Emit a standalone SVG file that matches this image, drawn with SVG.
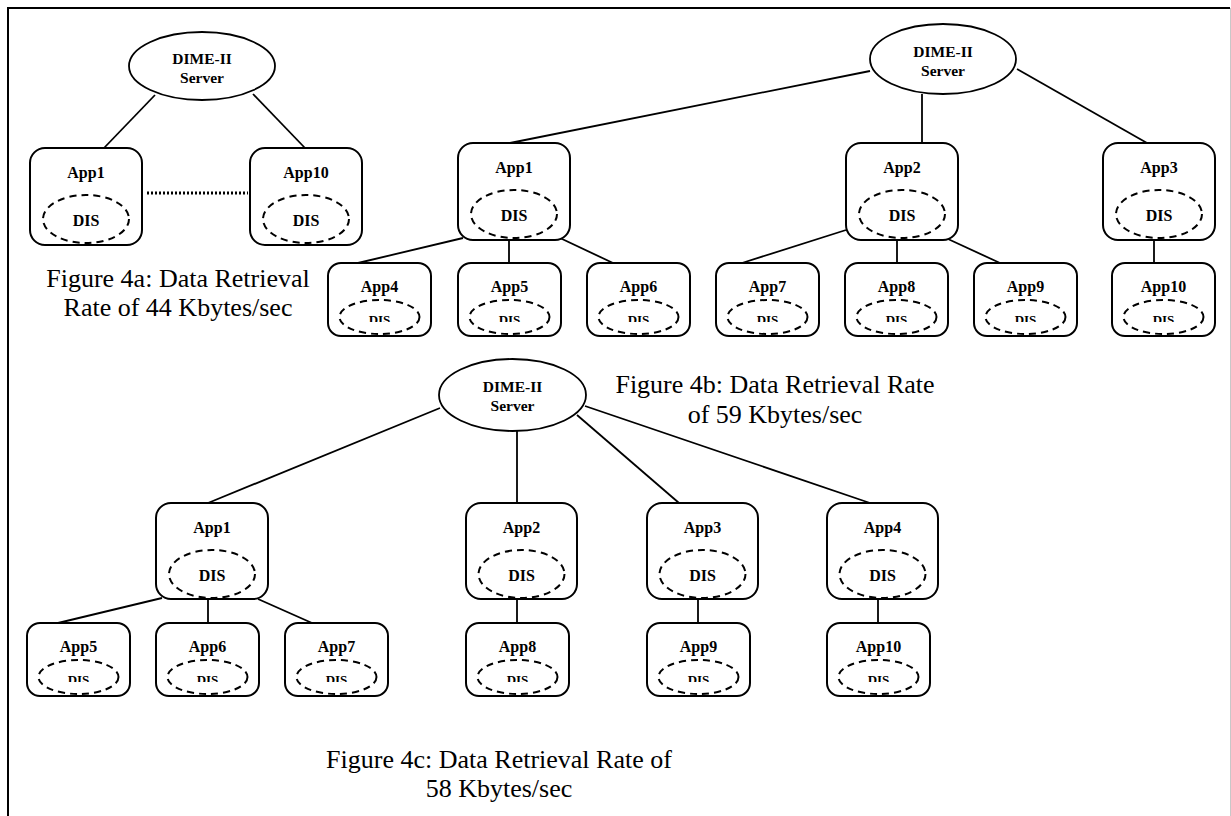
<svg xmlns="http://www.w3.org/2000/svg" width="1231" height="816" viewBox="0 0 1231 816">
  <style>
    .frame { fill: none; stroke: #000; stroke-width: 2; }
    .edge { stroke: #000; stroke-width: 1.8; fill: none; }
    .dots { stroke: #000; stroke-width: 3; stroke-dasharray: 2 2; fill: none; }
    .box { fill: #fff; stroke: #000; stroke-width: 2; }
    .srv { fill: #fff; stroke: #000; stroke-width: 1.8; }
    .dis { fill: none; stroke: #000; stroke-width: 2; stroke-dasharray: 7 5; }
    text { font-family: "Liberation Serif", "Times New Roman", serif; fill: #000; text-anchor: middle; }
    .lbl { font-size: 16px; font-weight: bold; }
    .sl { font-size: 15.5px; font-weight: bold; }
    .sd { font-size: 13px; font-weight: bold; }
    .cap { font-size: 26px; }
  </style>
  <defs>
    <!-- child DIS labels are cut off just above their baseline -->
    <clipPath id="cut" clipPathUnits="userSpaceOnUse">
      <rect x="0" y="0" width="103" height="59"/>
    </clipPath>
  </defs>

  <!-- page frame -->
  <path class="frame" d="M8,816 V8 H1230"/>
  <line x1="1230.5" y1="8" x2="1230.5" y2="816" stroke="#c8c8c8" stroke-width="1"/>

  <g id="connectors">
    <!-- 4a -->
    <line class="edge" x1="155" y1="95" x2="104" y2="148"/>
    <line class="edge" x1="253" y1="94" x2="305" y2="148"/>
    <line class="dots" x1="147" y1="193" x2="248" y2="193"/>
    <!-- 4b -->
    <line class="edge" x1="870" y1="71" x2="510" y2="143"/>
    <line class="edge" x1="922" y1="94" x2="922" y2="143"/>
    <line class="edge" x1="1017" y1="69" x2="1147" y2="143"/>
    <line class="edge" x1="463" y1="238" x2="358" y2="263"/>
    <line class="edge" x1="509" y1="240" x2="509" y2="263"/>
    <line class="edge" x1="560" y1="238" x2="613" y2="263"/>
    <line class="edge" x1="846" y1="230" x2="742" y2="263"/>
    <line class="edge" x1="897" y1="239" x2="897" y2="263"/>
    <line class="edge" x1="948" y1="239" x2="1000" y2="263"/>
    <line class="edge" x1="1154" y1="239" x2="1154" y2="263"/>
    <!-- 4c -->
    <line class="edge" x1="440" y1="408" x2="208" y2="503"/>
    <line class="edge" x1="517" y1="431" x2="517" y2="503"/>
    <line class="edge" x1="577" y1="415" x2="679" y2="503"/>
    <line class="edge" x1="585" y1="406" x2="870" y2="503"/>
    <line class="edge" x1="162" y1="598" x2="58" y2="623"/>
    <line class="edge" x1="208" y1="599" x2="208" y2="623"/>
    <line class="edge" x1="258" y1="599" x2="312" y2="623"/>
    <line class="edge" x1="517" y1="599" x2="517" y2="623"/>
    <line class="edge" x1="698" y1="599" x2="698" y2="623"/>
    <line class="edge" x1="878" y1="599" x2="878" y2="623"/>
  </g>

  <!-- ===== Figure 4a ===== -->
  <g id="a-server">
    <ellipse class="srv" cx="202" cy="66" rx="73" ry="34"/>
    <text class="sl" x="202" y="64">DIME-II</text>
    <text class="sl" x="202" y="83">Server</text>
  </g>
  <g id="a-app1" transform="translate(30,148)">
    <rect class="box" width="112" height="97" rx="15"/>
    <text class="lbl" x="56" y="30">App1</text>
    <ellipse class="dis" cx="56" cy="71" rx="43" ry="24"/>
    <text class="lbl" x="56" y="78">DIS</text>
  </g>
  <g id="a-app10" transform="translate(250,148)">
    <rect class="box" width="112" height="97" rx="15"/>
    <text class="lbl" x="56" y="30">App10</text>
    <ellipse class="dis" cx="56" cy="71" rx="43" ry="24"/>
    <text class="lbl" x="56" y="78">DIS</text>
  </g>
  <g id="a-caption">
    <text class="cap" x="178" y="287">Figure 4a: Data Retrieval</text>
    <text class="cap" x="178" y="316">Rate of 44 Kbytes/sec</text>
  </g>

  <!-- ===== Figure 4b ===== -->
  <g id="b-server">
    <ellipse class="srv" cx="943" cy="59" rx="73" ry="35"/>
    <text class="sl" x="943" y="57">DIME-II</text>
    <text class="sl" x="943" y="76">Server</text>
  </g>
  <g id="b-app1" transform="translate(458,143)">
    <rect class="box" width="112" height="97" rx="15"/>
    <text class="lbl" x="56" y="30">App1</text>
    <ellipse class="dis" cx="56" cy="71" rx="43" ry="24"/>
    <text class="lbl" x="56" y="78">DIS</text>
  </g>
  <g id="b-app2" transform="translate(846,143)">
    <rect class="box" width="112" height="97" rx="15"/>
    <text class="lbl" x="56" y="30">App2</text>
    <ellipse class="dis" cx="56" cy="71" rx="43" ry="24"/>
    <text class="lbl" x="56" y="78">DIS</text>
  </g>
  <g id="b-app3" transform="translate(1103,143)">
    <rect class="box" width="112" height="97" rx="15"/>
    <text class="lbl" x="56" y="30">App3</text>
    <ellipse class="dis" cx="56" cy="71" rx="43" ry="24"/>
    <text class="lbl" x="56" y="78">DIS</text>
  </g>
  <g id="b-app4" transform="translate(328,263)">
    <rect class="box" width="103" height="73" rx="13"/>
    <text class="lbl" x="51.5" y="29">App4</text>
    <ellipse class="dis" cx="51.5" cy="54" rx="40" ry="17"/>
    <text class="sd" x="51.5" y="61" clip-path="url(#cut)">DIS</text>
  </g>
  <g id="b-app5" transform="translate(458,263)">
    <rect class="box" width="103" height="73" rx="13"/>
    <text class="lbl" x="51.5" y="29">App5</text>
    <ellipse class="dis" cx="51.5" cy="54" rx="40" ry="17"/>
    <text class="sd" x="51.5" y="61" clip-path="url(#cut)">DIS</text>
  </g>
  <g id="b-app6" transform="translate(587,263)">
    <rect class="box" width="103" height="73" rx="13"/>
    <text class="lbl" x="51.5" y="29">App6</text>
    <ellipse class="dis" cx="51.5" cy="54" rx="40" ry="17"/>
    <text class="sd" x="51.5" y="61" clip-path="url(#cut)">DIS</text>
  </g>
  <g id="b-app7" transform="translate(716,263)">
    <rect class="box" width="103" height="73" rx="13"/>
    <text class="lbl" x="51.5" y="29">App7</text>
    <ellipse class="dis" cx="51.5" cy="54" rx="40" ry="17"/>
    <text class="sd" x="51.5" y="61" clip-path="url(#cut)">DIS</text>
  </g>
  <g id="b-app8" transform="translate(845,263)">
    <rect class="box" width="103" height="73" rx="13"/>
    <text class="lbl" x="51.5" y="29">App8</text>
    <ellipse class="dis" cx="51.5" cy="54" rx="40" ry="17"/>
    <text class="sd" x="51.5" y="61" clip-path="url(#cut)">DIS</text>
  </g>
  <g id="b-app9" transform="translate(974,263)">
    <rect class="box" width="103" height="73" rx="13"/>
    <text class="lbl" x="51.5" y="29">App9</text>
    <ellipse class="dis" cx="51.5" cy="54" rx="40" ry="17"/>
    <text class="sd" x="51.5" y="61" clip-path="url(#cut)">DIS</text>
  </g>
  <g id="b-app10" transform="translate(1112,263)">
    <rect class="box" width="103" height="73" rx="13"/>
    <text class="lbl" x="51.5" y="29">App10</text>
    <ellipse class="dis" cx="51.5" cy="54" rx="40" ry="17"/>
    <text class="sd" x="51.5" y="61" clip-path="url(#cut)">DIS</text>
  </g>
  <g id="b-caption">
    <text class="cap" x="775" y="393">Figure 4b: Data Retrieval Rate</text>
    <text class="cap" x="775" y="423">of 59 Kbytes/sec</text>
  </g>

  <!-- ===== Figure 4c ===== -->
  <g id="c-server">
    <ellipse class="srv" cx="512.5" cy="395" rx="73.5" ry="36"/>
    <text class="sl" x="512.5" y="392">DIME-II</text>
    <text class="sl" x="512.5" y="411">Server</text>
  </g>
  <g id="c-app1" transform="translate(156,503)">
    <rect class="box" width="112" height="96" rx="15"/>
    <text class="lbl" x="56" y="30">App1</text>
    <ellipse class="dis" cx="56" cy="71" rx="43" ry="24"/>
    <text class="lbl" x="56" y="78">DIS</text>
  </g>
  <g id="c-app2" transform="translate(466,503)">
    <rect class="box" width="111" height="96" rx="15"/>
    <text class="lbl" x="55.5" y="30">App2</text>
    <ellipse class="dis" cx="55.5" cy="71" rx="43" ry="24"/>
    <text class="lbl" x="55.5" y="78">DIS</text>
  </g>
  <g id="c-app3" transform="translate(647,503)">
    <rect class="box" width="111" height="96" rx="15"/>
    <text class="lbl" x="55.5" y="30">App3</text>
    <ellipse class="dis" cx="55.5" cy="71" rx="43" ry="24"/>
    <text class="lbl" x="55.5" y="78">DIS</text>
  </g>
  <g id="c-app4" transform="translate(827,503)">
    <rect class="box" width="111" height="96" rx="15"/>
    <text class="lbl" x="55.5" y="30">App4</text>
    <ellipse class="dis" cx="55.5" cy="71" rx="43" ry="24"/>
    <text class="lbl" x="55.5" y="78">DIS</text>
  </g>
  <g id="c-app5" transform="translate(27,623)">
    <rect class="box" width="103" height="73" rx="13"/>
    <text class="lbl" x="51.5" y="29">App5</text>
    <ellipse class="dis" cx="51.5" cy="54" rx="40" ry="17"/>
    <text class="sd" x="51.5" y="61" clip-path="url(#cut)">DIS</text>
  </g>
  <g id="c-app6" transform="translate(156,623)">
    <rect class="box" width="103" height="73" rx="13"/>
    <text class="lbl" x="51.5" y="29">App6</text>
    <ellipse class="dis" cx="51.5" cy="54" rx="40" ry="17"/>
    <text class="sd" x="51.5" y="61" clip-path="url(#cut)">DIS</text>
  </g>
  <g id="c-app7" transform="translate(285,623)">
    <rect class="box" width="103" height="73" rx="13"/>
    <text class="lbl" x="51.5" y="29">App7</text>
    <ellipse class="dis" cx="51.5" cy="54" rx="40" ry="17"/>
    <text class="sd" x="51.5" y="61" clip-path="url(#cut)">DIS</text>
  </g>
  <g id="c-app8" transform="translate(466,623)">
    <rect class="box" width="103" height="73" rx="13"/>
    <text class="lbl" x="51.5" y="29">App8</text>
    <ellipse class="dis" cx="51.5" cy="54" rx="40" ry="17"/>
    <text class="sd" x="51.5" y="61" clip-path="url(#cut)">DIS</text>
  </g>
  <g id="c-app9" transform="translate(647,623)">
    <rect class="box" width="103" height="73" rx="13"/>
    <text class="lbl" x="51.5" y="29">App9</text>
    <ellipse class="dis" cx="51.5" cy="54" rx="40" ry="17"/>
    <text class="sd" x="51.5" y="61" clip-path="url(#cut)">DIS</text>
  </g>
  <g id="c-app10" transform="translate(827,623)">
    <rect class="box" width="103" height="73" rx="13"/>
    <text class="lbl" x="51.5" y="29">App10</text>
    <ellipse class="dis" cx="51.5" cy="54" rx="40" ry="17"/>
    <text class="sd" x="51.5" y="61" clip-path="url(#cut)">DIS</text>
  </g>
  <g id="c-caption">
    <text class="cap" x="499" y="768">Figure 4c: Data Retrieval Rate of</text>
    <text class="cap" x="499" y="797">58 Kbytes/sec</text>
  </g>
</svg>
